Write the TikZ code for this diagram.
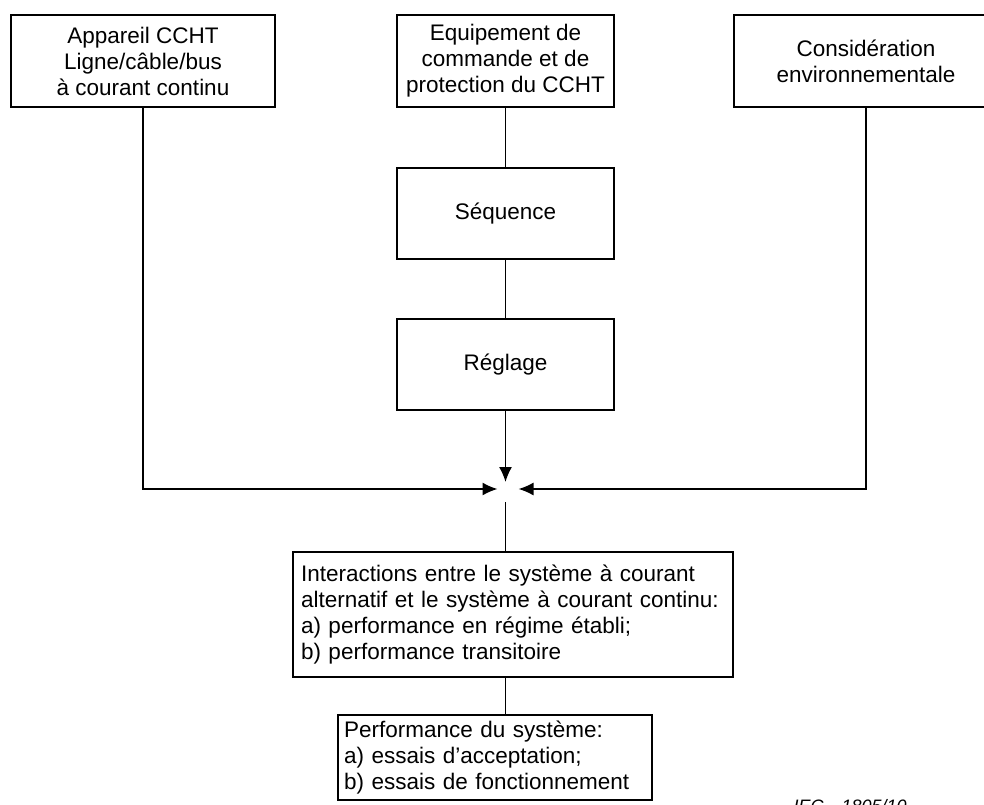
\documentclass[tikz,border=0pt]{standalone}
\usepackage{fontspec}
\setmainfont{Liberation Sans}
\usetikzlibrary{arrows.meta}
\tikzset{
  bloc/.style={draw, line width=1.5pt, align=center, inner sep=0pt, minimum height=92pt},
  liste/.style={draw, line width=1.5pt, align=left, inner ysep=0pt},
  trait/.style={line width=1.5pt},
  fleche/.style={trait, -{Latex[length=15pt,width=13pt]}}
}
\begin{document}
\begin{tikzpicture}[x=1pt,y=-1pt,font=\fontsize{22.5}{26}\selectfont]
\useasboundingbox (0,0) rectangle (984,804);
% blocs du haut
\node[bloc, minimum width=264pt] (appareil) at (143,61) {Appareil CCHT\\Ligne/câble/bus\\à courant continu};
\node[bloc, minimum width=217pt] (commande) at (505.5,61) {Equipement de\\commande et de\\protection du CCHT};
\node[bloc, minimum width=264pt] (environ) at (866,61) {Considération\\environnementale};
% chaine centrale
\node[bloc, minimum width=217pt, minimum height=91pt] (sequence) at (505.5,213.5) {Séquence};
\node[bloc, minimum width=217pt, minimum height=91pt] (reglage) at (505.5,364.5) {Réglage};
\coordinate (jonction) at (505.5,489);
% blocs du bas
\node[liste, text width=424pt, inner xsep=8pt, minimum height=125pt] (interactions) at (513,614.5)
  {Interactions entre le système à courant\\alternatif et le système à courant continu:\\a) performance en régime établi;\\b) performance transitoire};
\node[liste, text width=302pt, inner xsep=6pt, minimum height=85pt] (performance) at (495,757.5)
  {Performance du système:\\a) essais d’acceptation;\\b) essais de fonctionnement};
\node[font=\fontsize{18}{20}\selectfont\itshape, anchor=base west] (iec) at (790,812) {IEC\quad 1805/10};
% liaisons
\draw[trait] (commande) -- (sequence);
\draw[trait] (sequence) -- (reglage);
\draw[fleche, shorten >=7pt] (reglage) -- (jonction);
\draw[fleche, shorten >=8pt] (appareil.south) |- (jonction);
\draw[fleche, shorten >=13pt] (environ.south) |- (jonction);
\draw[trait, shorten <=13pt] (jonction) -- (interactions.north -| jonction);
\draw[trait] (interactions.south -| jonction) -- (performance.north -| jonction);
\end{tikzpicture}
\end{document}
